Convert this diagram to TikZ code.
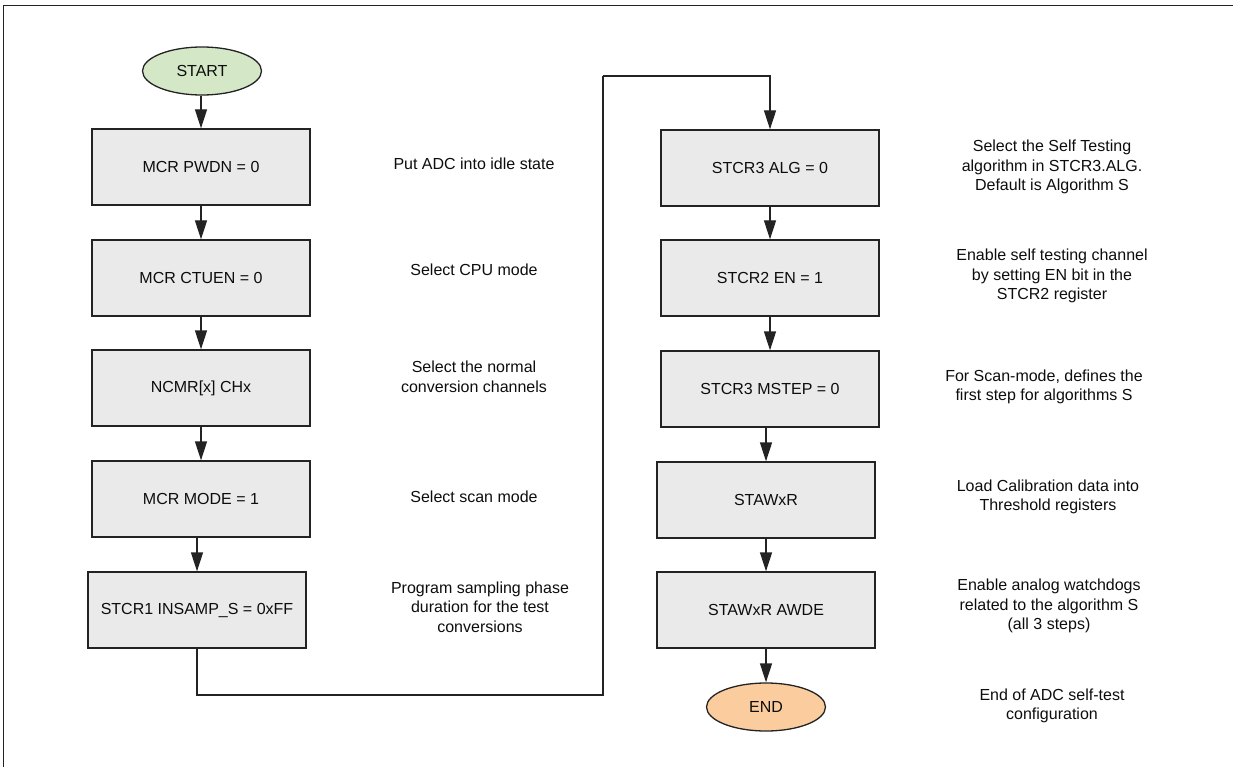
\documentclass[tikz,border=0pt]{standalone}
\usepackage{fontspec}
\setmainfont{Liberation Sans}
\usetikzlibrary{arrows.meta,shapes.geometric}
\definecolor{boxgray}{RGB}{234,234,234}
\definecolor{startgreen}{RGB}{212,231,198}
\definecolor{endorange}{RGB}{250,204,158}
\definecolor{edgecol}{RGB}{35,35,35}
\begin{document}
\begin{tikzpicture}[x=1pt,y=-1pt,
  every node/.style={font=\fontsize{16}{19.5}\selectfont, text=black!95},
  box/.style={draw=edgecol, line width=1.3pt, fill=boxgray, minimum width=218pt, minimum height=76pt, inner sep=0pt},
  term/.style={ellipse, draw=edgecol, line width=1.3pt, minimum width=119pt, minimum height=48pt, inner sep=0pt},
  desc/.style={align=center, inner sep=0pt},
  arr/.style={draw=edgecol, line width=1.3pt, -{Triangle[length=19pt,width=12pt]}},
  conn/.style={draw=edgecol, line width=1.2pt},
]
\useasboundingbox (0,0) rectangle (1233,767);

% frame
\coordinate (f1) at (3.5,767);
\coordinate (f2) at (3.5,5.5);
\coordinate (f3) at (1233,5.5);
\draw[line width=1.6pt, edgecol] (f1) -- (f2) -- (f3);

% left column
\node[term, fill=startgreen] (start) at (202,71) {START};
\node[box] (b1) at (201,167) {MCR PWDN = 0};
\node[box] (b2) at (201,278) {MCR CTUEN = 0};
\node[box] (b3) at (201,388) {NCMR[x] CHx};
\node[box] (b4) at (201,499) {MCR MODE = 1};
\node[box] (b5) at (197,610) {STCR1 INSAMP\_S = 0xFF};

% right column
\node[box] (r1) at (770,168) {STCR3 ALG = 0};
\node[box] (r2) at (770,278) {STCR2 EN = 1};
\node[box] (r3) at (770,389) {STCR3 MSTEP = 0};
\node[box] (r4) at (766,500) {STAWxR};
\node[box] (r5) at (766,610) {STAWxR AWDE};
\node[term, fill=endorange] (end) at (766,707) {END};

% arrows
\draw[arr] (start.south -| b1.north) -- (b1.north);
\draw[arr] (b1) -- (b2);
\draw[arr] (b2) -- (b3);
\draw[arr] (b3) -- (b4);
\draw[arr] (b5.north |- b4.south) -- (b5.north);

\coordinate (c1) at (603,695);
\coordinate (c2) at (603,76);
\draw[conn] (b5.south) |- (c1) -- (c2);
\draw[arr] (c2) -| (r1.north);

\draw[arr] (r1) -- (r2);
\draw[arr] (r2) -- (r3);
\draw[arr] (r4.north |- r3.south) -- (r4.north);
\draw[arr] (r4) -- (r5);
\draw[arr] (r5.south) -- (end.north);

% descriptions
\node[desc] (d1) at (474,164) {Put ADC into idle state};
\node[desc] (d2) at (474,270) {Select CPU mode};
\node[desc] (d3) at (474,377) {Select the normal\\conversion channels};
\node[desc] (d4) at (474,497) {Select scan mode};
\node[desc] (d5) at (480,607) {Program sampling phase\\duration for the test\\conversions};

\node[desc] (e1) at (1052,167) {Select the Self Testing\\algorithm in STCR3.ALG.\\Default is Algorithm S};
\node[desc] (e2) at (1052,276) {Enable self testing channel\\by setting EN bit in the\\STCR2 register};
\node[desc] (e3) at (1044,387) {For Scan-mode, defines the\\first step for algorithms S};
\node[desc] (e4) at (1048,497) {Load Calibration data into\\Threshold registers};
\node[desc] (e5) at (1049,606) {Enable analog watchdogs\\related to the algorithm S\\(all 3 steps)};
\node[desc] (e6) at (1052,706) {End of ADC self-test\\configuration};
\end{tikzpicture}
\end{document}
